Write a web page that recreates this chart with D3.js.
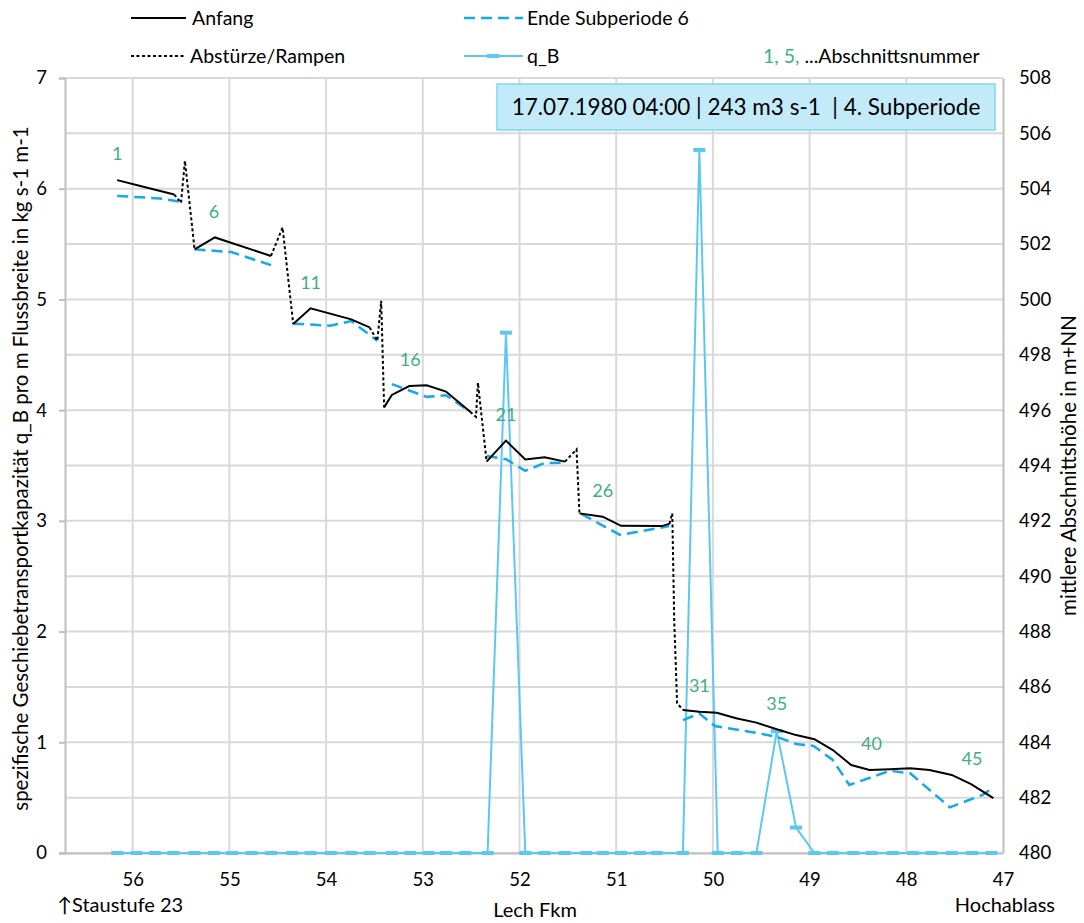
<!DOCTYPE html>
<html>
<head>
<meta charset="utf-8">
<script src="https://cdn.jsdelivr.net/npm/d3@7"></script>
<style>
  body { margin: 0; background: #fff; }
  svg text { font-family: Lato, "Open Sans", sans-serif; fill: #000; white-space: pre; }
</style>
</head>
<body>
<svg id="chart" width="1084" height="923"></svg>
<script>
// Mean section height at the start (m+NN), one polyline per reach: [Fkm, height]
const anfangReaches = [
  [[56.16, 504.31], [55.89, 504.07], [55.57, 503.79]],
  [[55.36, 501.81], [55.15, 502.24], [54.57, 501.57]],
  [[54.34, 499.11], [54.16, 499.68], [53.74, 499.28], [53.55, 498.99]],
  [[53.40, 496.10], [53.32, 496.55], [53.14, 496.87], [52.96, 496.90], [52.76, 496.67], [52.51, 495.94]],
  [[52.34, 494.14], [52.14, 494.90], [51.94, 494.22], [51.74, 494.30], [51.53, 494.14]],
  [[51.38, 492.27], [51.14, 492.15], [50.95, 491.82], [50.53, 491.81], [50.45, 491.89]],
  [[50.31, 485.17], [50.14, 485.10], [49.96, 485.07], [49.76, 484.87], [49.55, 484.71], [49.34, 484.47],
   [49.14, 484.26], [48.95, 484.11], [48.76, 483.72], [48.57, 483.18], [48.38, 483.00], [48.17, 483.03],
   [47.96, 483.06], [47.76, 483.00], [47.53, 482.82], [47.33, 482.49], [47.10, 481.98]]
];

// Drops and ramps between the reaches
const rampen = [
  [[55.57, 503.79], [55.50, 503.49], [55.46, 505.01], [55.36, 501.81]],
  [[54.57, 501.57], [54.45, 502.60], [54.34, 499.11]],
  [[53.55, 498.99], [53.47, 498.51], [53.43, 499.95], [53.40, 496.10]],
  [[52.51, 495.94], [52.45, 495.76], [52.43, 496.99], [52.34, 494.14]],
  [[51.53, 494.14], [51.41, 494.58], [51.38, 492.27]],
  [[50.45, 491.89], [50.42, 492.27], [50.40, 488.42], [50.37, 485.41], [50.31, 485.17]]
];

// Mean section height at the end of sub-period 6
const endeReaches = [
  [[56.16, 503.74], [55.72, 503.65], [55.50, 503.53]],
  [[55.36, 501.81], [54.98, 501.71], [54.57, 501.24]],
  [[54.34, 499.13], [53.96, 499.05], [53.74, 499.22], [53.47, 498.51]],
  [[53.32, 496.94], [52.96, 496.48], [52.76, 496.54], [52.51, 495.94]],
  [[52.34, 494.34], [52.14, 494.23], [51.94, 493.81], [51.74, 494.09], [51.53, 494.10]],
  [[51.36, 492.25], [50.96, 491.49], [50.45, 491.81]],
  [[50.31, 484.80], [50.14, 485.04], [49.98, 484.59], [49.55, 484.34], [49.34, 484.20], [49.14, 483.94],
   [48.96, 483.87], [48.76, 483.36], [48.59, 482.46], [48.17, 482.97], [47.96, 482.88], [47.55, 481.65],
   [47.21, 482.10], [47.10, 482.37]]
];

// Section positions (Fkm) and transport capacity q_B (kg s-1 m-1)
const sectionKm = [
  56.16, 55.96, 55.77, 55.58, 55.36, 55.16, 54.97, 54.77, 54.57, 54.35,
  54.16, 53.95, 53.74, 53.55, 53.32, 53.13, 52.94, 52.76, 52.56, 52.33,
  52.14, 51.94, 51.74, 51.53, 51.31, 51.14, 50.95, 50.75, 50.58, 50.31,
  50.14, 49.95, 49.75, 49.55, 49.34, 49.14, 48.95, 48.76, 48.55, 48.36,
  48.14, 47.93, 47.74, 47.53, 47.32, 47.12
];
const qB = [
  0, 0, 0, 0, 0, 0, 0, 0, 0, 0,
  0, 0, 0, 0, 0, 0, 0, 0, 0, 0,
  4.70, 0, 0, 0, 0, 0, 0, 0, 0, 0,
  6.35, 0, 0, 0, 1.10, 0.23, 0, 0, 0, 0,
  0, 0, 0, 0, 0, 0
];

// Section numbers written above the start profile
const labelledSections = [1, 6, 11, 16, 21, 26, 31, 35, 40, 45];

const kmTicks = [56, 55, 54, 53, 52, 51, 50, 49, 48, 47];
const qTicks = [0, 1, 2, 3, 4, 5, 6, 7];
const hTicks = [480, 482, 484, 486, 488, 490, 492, 494, 496, 498, 500, 502, 504, 506, 508];

const titleText = "17.07.1980 04:00 | 243 m3 s-1  | 4. Subperiode";

// ---------------------------------------------------------------
const svg = d3.select("#chart");
const L = 65, R = 1003, T = 78, B = 853;

const x = d3.scaleLinear().domain([56.7, 47]).range([L, R]);
const yQ = d3.scaleLinear().domain([0, 7]).range([B, T]);
const yH = d3.scaleLinear().domain([480, 508]).range([B, T]);

const gridColor = "#d9d9d9";
const axisColor = "#bfbfbf";
const black = "#000";
const endeColor = "#14a9e8";
const qColor = "#5cc8f2";
const green = "#3fae86";
const tickFont = 18.5;

// gridlines
const grid = svg.append("g");
grid.selectAll("line.h").data(hTicks).join("line")
  .attr("x1", L).attr("x2", R)
  .attr("y1", d => yH(d)).attr("y2", d => yH(d))
  .attr("stroke", gridColor).attr("stroke-width", 2);
grid.selectAll("line.v").data(kmTicks.filter(d => d !== 47)).join("line")
  .attr("x1", d => x(d)).attr("x2", d => x(d))
  .attr("y1", T).attr("y2", B)
  .attr("stroke", gridColor).attr("stroke-width", 2);

// axes
const axL = d3.axisLeft(yQ).tickValues(qTicks).tickSize(6).tickPadding(12).tickFormat(d3.format("d"));
const gL = svg.append("g").attr("transform", `translate(${L},0)`).call(axL);
const axR = d3.axisRight(yH).tickValues(hTicks).tickSize(0).tickPadding(16).tickFormat(d3.format("d"));
const gR = svg.append("g").attr("transform", `translate(${R},0)`).call(axR);
const axB = d3.axisBottom(x).tickValues(kmTicks).tickSize(0).tickPadding(20).tickFormat(d3.format("d"));
const gB = svg.append("g").attr("transform", `translate(0,${B})`).call(axB);
[gL, gR, gB].forEach(g => {
  g.select(".domain").attr("stroke", axisColor).attr("stroke-width", 2);
  g.selectAll(".tick line").attr("stroke", axisColor).attr("stroke-width", 2);
  g.selectAll(".tick text").attr("font-size", tickFont).attr("fill", "#222")
    .style("font-family", "Lato, sans-serif");
});
gB.select(".domain").attr("d", `M${L - 6},0.5H${R}`);

// line generators
const lineH = d3.line().x(d => x(d[0])).y(d => yH(d[1]));
const lineQ = d3.line().x(d => x(d[0])).y(d => yQ(d[1]));

// q_B
const qData = sectionKm.map((k, i) => [k, qB[i]]);
svg.append("path").datum(qData).attr("d", lineQ)
  .attr("fill", "none").attr("stroke", qColor).attr("stroke-width", 2);
svg.append("g").selectAll("rect").data(qData).join("rect")
  .attr("x", d => x(d[0]) - 6).attr("y", d => yQ(d[1]) - 2)
  .attr("width", 12).attr("height", 4).attr("fill", qColor);

// Ende Subperiode 6
svg.append("g").selectAll("path").data(endeReaches).join("path")
  .attr("d", lineH).attr("fill", "none").attr("stroke", endeColor)
  .attr("stroke-width", 2.5).attr("stroke-dasharray", "11,6");

// Abstürze/Rampen
svg.append("g").selectAll("path").data(rampen).join("path")
  .attr("d", lineH).attr("fill", "none").attr("stroke", black)
  .attr("stroke-width", 2).attr("stroke-dasharray", "3,2.5");

// Anfang
svg.append("g").selectAll("path").data(anfangReaches).join("path")
  .attr("d", lineH).attr("fill", "none").attr("stroke", black).attr("stroke-width", 2);

// section numbers, placed above the start profile
const anfangPts = anfangReaches.flat().concat(rampen.flat()).sort((a, b) => b[0] - a[0]);
function anfangAt(km) {
  for (let i = 0; i < anfangPts.length - 1; i++) {
    const a = anfangPts[i], b = anfangPts[i + 1];
    if (km <= a[0] && km >= b[0]) {
      const t = a[0] === b[0] ? 0 : (a[0] - km) / (a[0] - b[0]);
      return a[1] + t * (b[1] - a[1]);
    }
  }
  return anfangPts[0][1];
}
svg.append("g").selectAll("text").data(labelledSections).join("text")
  .attr("x", n => x(sectionKm[n - 1]))
  .attr("y", n => yH(anfangAt(sectionKm[n - 1])) - 26)
  .attr("dy", "0.35em")
  .attr("text-anchor", "middle").attr("font-size", 18)
  .style("fill", green)
  .text(n => n);

// title box
const box = svg.append("g");
box.append("rect").attr("x", 497).attr("y", 84).attr("width", 498).attr("height", 46)
  .attr("fill", "#c3eaf9").attr("stroke", "#7fd6f3").attr("stroke-width", 1.5);
box.append("text").attr("x", 746).attr("y", 107).attr("dy", "0.35em")
  .attr("text-anchor", "middle").attr("font-size", 22.5).text(titleText);

// axis titles
svg.append("text")
  .attr("transform", `translate(21,${(T + B) / 2 + 3}) rotate(-90)`)
  .attr("text-anchor", "middle").attr("dy", "0.35em").attr("font-size", 20.5)
  .text("spezifische Geschiebetransportkapazität q_B pro m Flussbreite in kg s-1 m-1");
svg.append("text")
  .attr("transform", `translate(1069,${(T + B) / 2}) rotate(-90)`)
  .attr("text-anchor", "middle").attr("dy", "0.35em").attr("font-size", 20.5)
  .text("mittlere Abschnittshöhe in m+NN");
svg.append("text").attr("x", 535).attr("y", 910).attr("dy", "0.35em")
  .attr("text-anchor", "middle").attr("font-size", 20).text("Lech Fkm");
svg.append("text").attr("x", 57).attr("y", 905).attr("dy", "0.35em")
  .attr("font-size", 20).text("\u2191Staustufe 23");
svg.append("text").attr("x", 1055).attr("y", 905).attr("dy", "0.35em")
  .attr("text-anchor", "end").attr("font-size", 20).text("Hochablass");

// legend
const lg = svg.append("g");
const legY1 = 18, legY2 = 56, legFont = 19.5;
lg.append("line").attr("x1", 131).attr("x2", 186).attr("y1", legY1).attr("y2", legY1)
  .attr("stroke", black).attr("stroke-width", 2);
lg.append("text").attr("x", 192).attr("y", legY1).attr("dy", "0.35em").attr("font-size", legFont).text("Anfang");
lg.append("line").attr("x1", 464).attr("x2", 523).attr("y1", legY1).attr("y2", legY1)
  .attr("stroke", endeColor).attr("stroke-width", 2.5).attr("stroke-dasharray", "11,6");
lg.append("text").attr("x", 527).attr("y", legY1).attr("dy", "0.35em").attr("font-size", legFont).text("Ende Subperiode 6");
lg.append("line").attr("x1", 131).attr("x2", 186).attr("y1", legY2).attr("y2", legY2)
  .attr("stroke", black).attr("stroke-width", 2).attr("stroke-dasharray", "3,2.5");
lg.append("text").attr("x", 190).attr("y", legY2).attr("dy", "0.35em").attr("font-size", legFont).text("Abstürze/Rampen");
lg.append("line").attr("x1", 464).attr("x2", 523).attr("y1", legY2).attr("y2", legY2)
  .attr("stroke", qColor).attr("stroke-width", 2);
lg.append("rect").attr("x", 487).attr("y", legY2 - 2).attr("width", 12).attr("height", 4).attr("fill", qColor);
lg.append("text").attr("x", 527).attr("y", legY2).attr("dy", "0.35em").attr("font-size", legFont).text("q_B");
const lt = lg.append("text").attr("x", 763).attr("y", legY2).attr("dy", "0.35em").attr("font-size", legFont);
lt.append("tspan").style("fill", green).text("1, 5, ");
lt.append("tspan").text("...Abschnittsnummer");
</script>
</body>
</html>
